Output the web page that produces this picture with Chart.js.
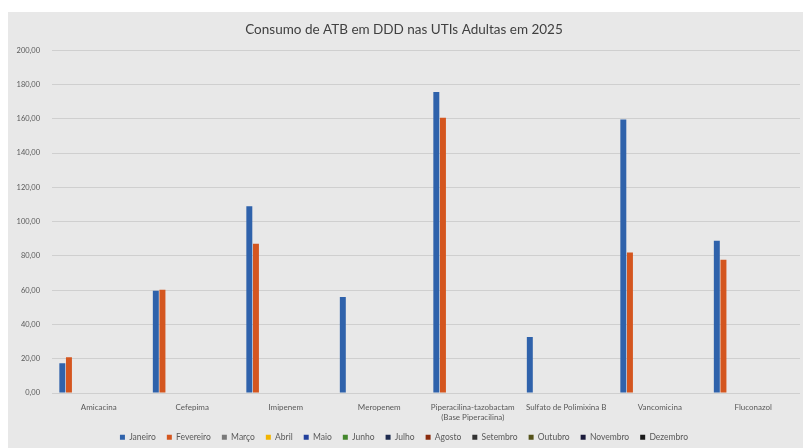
<!DOCTYPE html>
<html>
<head>
<meta charset="utf-8">
<script src="https://cdn.jsdelivr.net/npm/chart.js@4.4.1/dist/chart.umd.min.js"></script>
<style>
  html, body { margin: 0; padding: 0; background: #fff; }
  body { width: 803px; height: 448px; position: relative; overflow: hidden; }
  #panel { position: absolute; left: 8px; top: 12px; width: 795px; height: 436px; background: #e8e8e8; }
  #panel canvas { display: block; }
</style>
</head>
<body>
<div id="panel"><canvas id="atb" width="795" height="436"></canvas></div>
<script>
const drugs = [
  'Amicacina', 'Cefepima', 'Imipenem', 'Meropenem',
  ['Piperacilina-tazobactam', '(Base Piperacilina)'],
  'Sulfato de Polimixina B', 'Vancomicina', 'Fluconazol'
];

const months = ['Janeiro', 'Fevereiro', 'Março', 'Abril', 'Maio', 'Junho',
  'Julho', 'Agosto', 'Setembro', 'Outubro', 'Novembro', 'Dezembro'];

const monthColors = ['#2f62ab', '#d4561f', '#7a7a7a', '#f2b400', '#22409c', '#44872c',
  '#1d2b4f', '#8a2c0e', '#333333', '#55531a', '#1c1c3c', '#1a1a1a'];

// only Jan and Feb have data so far
const janeiro = [17.4, 59.6, 108.9, 56.0, 175.6, 32.7, 159.6, 88.9];
const fevereiro = [20.9, 60.2, 87.1, null, 160.6, null, 81.9, 77.8];
const empty = [null, null, null, null, null, null, null, null];

const seriesValues = [janeiro, fevereiro, empty, empty, empty, empty,
  empty, empty, empty, empty, empty, empty];

const yTicks = { min: 0, max: 200, step: 20 };

const font = 'Lato, "Open Sans", sans-serif';

new Chart(document.getElementById('atb'), {
  type: 'bar',
  data: {
    labels: drugs,
    datasets: months.map((m, i) => ({
      label: m,
      data: seriesValues[i],
      backgroundColor: monthColors[i],
      borderWidth: 0,
      categoryPercentage: 0.85,
      barPercentage: 0.9
    }))
  },
  options: {
    responsive: false,
    animation: false,
    layout: { padding: { left: 0, right: 3, top: 0, bottom: 0 } },
    scales: {
      x: {
        grid: { display: false },
        border: { display: false },
        ticks: {
          color: '#595959', font: { family: font, size: 8 },
          maxRotation: 0, autoSkip: false, padding: 2
        },
        afterFit(scale) { scale.height = 29; }
      },
      y: {
        min: yTicks.min, max: yTicks.max,
        grid: { color: '#cfcfcf', lineWidth: 1, drawTicks: false },
        border: { display: false },
        ticks: {
          stepSize: yTicks.step,
          color: '#595959', font: { family: font, size: 7.5 }, padding: 12,
          callback: (v) => v.toFixed(2).replace('.', ',')
        },
        afterFit(scale) { scale.width = 44; }
      }
    },
    plugins: {
      title: {
        display: true,
        text: 'Consumo de ATB em DDD nas UTIs Adultas em 2025',
        color: '#404040',
        font: { family: font, size: 13.5, weight: 'normal' },
        padding: { top: 10, bottom: 12 }
      },
      legend: {
        position: 'bottom',
        maxHeight: 26,
        labels: {
          color: '#595959', font: { family: font, size: 8.5 },
          boxWidth: 5, boxHeight: 5, padding: 11
        }
      },
      tooltip: { enabled: false }
    }
  }
});
</script>
</body>
</html>
